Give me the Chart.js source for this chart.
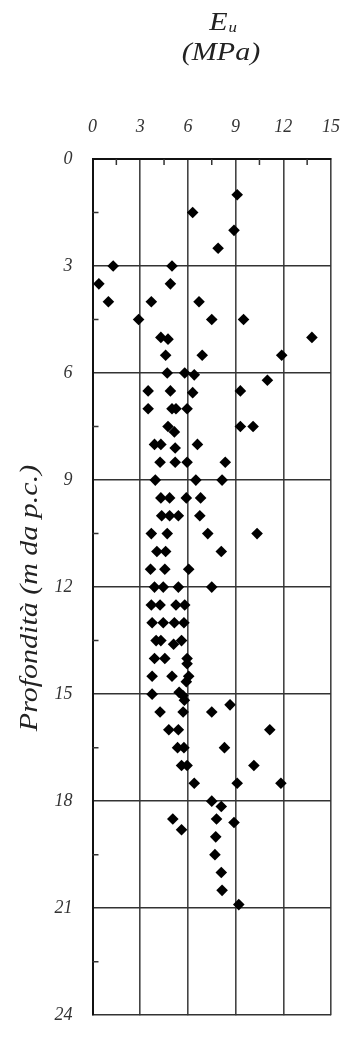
<!DOCTYPE html>
<html>
<head>
<meta charset="utf-8">
<script src="https://cdn.jsdelivr.net/npm/chart.js@4"></script>
<style>
  body { margin: 0; background: #fff; }
  #wrap { width: 361px; height: 1046px; }
</style>
</head>
<body>
<div id="wrap"><canvas id="euChart"></canvas></div>
<script>
// Eu (MPa), with matching depth (m)
const moduli = [
  9.1, 6.3, 8.9, 7.9, 1.3, 5.0, 0.4, 4.9, 1.0, 3.7, 6.7, 2.9, 7.5, 9.5,
  4.3, 4.75, 13.8, 4.6, 6.9, 11.9, 4.7, 5.8, 6.4, 11.0, 3.5, 4.9, 6.3, 9.3,
  3.5, 5.0, 5.25, 5.95, 4.75, 5.15, 9.3, 10.1, 3.9, 4.3, 6.6, 5.2,
  4.25, 5.2, 5.95, 8.35, 3.95, 6.5, 8.15, 4.3, 4.85, 5.9, 6.8,
  4.35, 4.85, 5.4, 6.75, 3.7, 4.7, 7.25, 10.35, 4.05, 4.6, 8.1,
  3.65, 4.55, 6.05, 3.9, 4.45, 5.4, 7.5, 3.7, 4.25, 5.25, 5.8,
  3.75, 4.45, 5.15, 5.75, 4.0, 4.3, 5.1, 5.6, 3.9, 4.55, 5.95, 5.95,
  3.75, 5.0, 6.05, 5.9, 3.75, 5.45, 5.68, 5.78, 8.65, 4.25, 5.7, 7.5,
  4.8, 5.4, 11.15, 5.35, 5.75, 8.3, 5.6, 5.95, 10.15, 6.4, 9.1, 11.85,
  7.5, 8.1, 5.05, 7.8, 8.9, 5.6, 7.75, 7.7, 8.1, 8.15, 9.2
];
const depths = [
  1.0, 1.5, 2.0, 2.5, 3.0, 3.0, 3.5, 3.5, 4.0, 4.0, 4.0, 4.5, 4.5, 4.5,
  5.0, 5.05, 5.0, 5.5, 5.5, 5.5, 6.0, 6.0, 6.05, 6.2, 6.5, 6.5, 6.55, 6.5,
  7.0, 7.0, 7.0, 7.0, 7.5, 7.65, 7.5, 7.5, 8.0, 8.0, 8.0, 8.1,
  8.5, 8.5, 8.5, 8.5, 9.0, 9.0, 9.0, 9.5, 9.5, 9.5, 9.5,
  10.0, 10.0, 10.0, 10.0, 10.5, 10.5, 10.5, 10.5, 11.0, 11.0, 11.0,
  11.5, 11.5, 11.5, 12.0, 12.0, 12.0, 12.0, 12.5, 12.5, 12.5, 12.5,
  13.0, 13.0, 13.0, 13.0, 13.5, 13.5, 13.6, 13.5, 14.0, 14.0, 14.0, 14.15,
  14.5, 14.5, 14.5, 14.65, 15.0, 14.95, 15.04, 15.17, 15.3, 15.5, 15.5, 15.5,
  16.0, 16.0, 16.0, 16.5, 16.5, 16.5, 17.0, 17.0, 17.0, 17.5, 17.5, 17.5,
  18.0, 18.15, 18.5, 18.5, 18.6, 18.8, 19.0, 19.5, 20.0, 20.5, 20.9
];
const xTicks = [0, 3, 6, 9, 12, 15];
const yTicks = [0, 3, 6, 9, 12, 15, 18, 21, 24];
const xMinor = [1.5, 4.5, 7.5, 10.5, 13.5];
const yMinor = [1.5, 4.5, 7.5, 10.5, 13.5, 16.5, 19.5, 22.5];

const serif = '"Liberation Serif", "Times New Roman", serif';
const points = moduli.map((e, i) => ({ x: e, y: depths[i] }));

// titles and little inner ticks, drawn over the chart
const decorations = {
  id: 'decorations',
  afterDraw(chart) {
    const ctx = chart.ctx;
    const area = chart.chartArea;
    const sx = chart.scales.x, sy = chart.scales.y;
    ctx.save();

    ctx.strokeStyle = '#333';
    ctx.lineWidth = 1.5;
    ctx.beginPath();
    xMinor.forEach(v => {
      const px = sx.getPixelForValue(v);
      ctx.moveTo(px, area.top);
      ctx.lineTo(px, area.top + 6);
    });
    yMinor.forEach(v => {
      const py = sy.getPixelForValue(v);
      ctx.moveTo(area.left, py);
      ctx.lineTo(area.left + 6, py);
    });
    ctx.stroke();

    ctx.fillStyle = '#222';
    ctx.textAlign = 'center';
    ctx.textBaseline = 'alphabetic';

    // E with subscript u
    ctx.save();
    ctx.translate(222, 30);
    ctx.scale(1.2, 1);
    ctx.font = 'italic 25px ' + serif;
    ctx.fillText('E', -3, 0);
    ctx.font = 'italic 14px ' + serif;
    ctx.fillText('u', 9, 2);
    ctx.restore();

    ctx.save();
    ctx.translate(221, 60);
    ctx.scale(1.2, 1);
    ctx.font = 'italic 25px ' + serif;
    ctx.fillText('(MPa)', 0, 0);
    ctx.restore();

    // y axis title
    ctx.save();
    ctx.translate(37, 598);
    ctx.rotate(-Math.PI / 2);
    ctx.scale(1.2, 1);
    ctx.font = 'italic 25px ' + serif;
    ctx.fillText('Profondità (m da p.c.)', 0, 0);
    ctx.restore();

    ctx.restore();
  }
};

const ctx = document.getElementById('euChart').getContext('2d');
new Chart(ctx, {
  type: 'scatter',
  data: {
    datasets: [{
      data: points,
      pointStyle: 'rectRot',
      pointRadius: 5.8,
      pointHoverRadius: 5.8,
      backgroundColor: '#000',
      borderColor: '#000',
      borderWidth: 0
    }]
  },
  options: {
    responsive: true,
    maintainAspectRatio: false,
    animation: false,
    layout: { padding: { top: 0, left: 0, right: 11, bottom: 8 } },
    plugins: {
      legend: { display: false },
      tooltip: { enabled: false }
    },
    scales: {
      x: {
        type: 'linear',
        position: 'top',
        min: 0,
        max: 15,
        afterBuildTicks: s => { s.ticks = xTicks.map(v => ({ value: v })); },
        afterFit: s => { s.height = 159; },
        ticks: {
          padding: 21,
          color: '#333',
          font: { family: serif, size: 18, style: 'italic' }
        },
        grid: { color: '#444', lineWidth: 1.6, drawTicks: false },
        border: { color: '#111', width: 2 }
      },
      y: {
        type: 'linear',
        reverse: true,
        min: 0,
        max: 24,
        afterBuildTicks: s => { s.ticks = yTicks.map(v => ({ value: v })); },
        afterFit: s => { s.width = 92.5; },
        ticks: {
          padding: 20,
          color: '#333',
          font: { family: serif, size: 18, style: 'italic' }
        },
        grid: { color: '#333', lineWidth: 1.6, drawTicks: false },
        border: { color: '#111', width: 2 }
      }
    }
  },
  plugins: [decorations]
});
</script>
</body>
</html>
